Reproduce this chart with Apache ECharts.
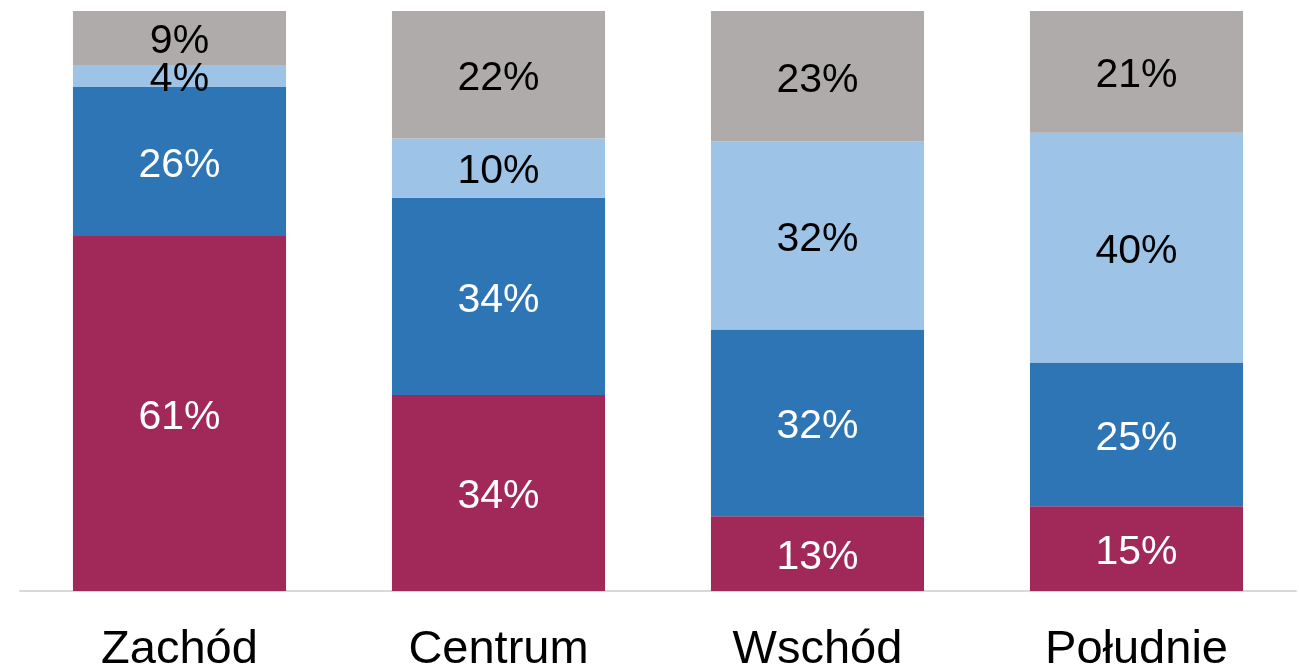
<!DOCTYPE html>
<html>
<head>
<meta charset="utf-8">
<script src="https://cdn.jsdelivr.net/npm/echarts@6/dist/echarts.min.js"></script>
<style>
html,body{margin:0;padding:0;background:#fff;}
#chart{width:1299px;height:667px;}
</style>
</head>
<body>
<div id="chart"></div>
<script>
const categories = ['Zachód', 'Centrum', 'Wschód', 'Południe'];
const seriesRed = [61.2, 33.8, 12.9, 14.6];
const seriesBlue = [25.7, 34, 32.2, 24.8];
const seriesLight = [3.8, 10.2, 32.4, 39.6];
const seriesGrey = [9.3, 22, 22.5, 21];

const colors = ['#A0295A', '#2E75B6', '#9DC3E6', '#AFABAB'];
const labelColors = ['#ffffff', '#ffffff', '#000000', '#000000'];
const allSeries = [seriesRed, seriesBlue, seriesLight, seriesGrey];

const chart = echarts.init(document.getElementById('chart'));
chart.setOption({
  animation: false,
  grid: {left: 20, right: 3, top: 11, bottom: 76, containLabel: false, outerBoundsMode: 'none'},
  xAxis: {
    type: 'category',
    data: categories,
    axisLine: {lineStyle: {color: '#D9D9D9', width: 2}},
    axisTick: {show: false},
    axisLabel: {fontFamily: 'Liberation Sans, Arial, sans-serif', fontSize: 47, color: '#000', margin: 36}
  },
  yAxis: {type: 'value', min: 0, max: 100, show: false, splitLine: {show: false}},
  series: allSeries.map((d, i) => ({
    type: 'bar',
    stack: 'total',
    data: d,
    barCategoryGap: '33.2%',
    itemStyle: {color: colors[i]},
    label: {
      show: true,
      position: 'inside',
      offset: [0, 4],
      formatter: p => Math.round(p.value) + '%',
      fontFamily: 'Liberation Sans, Arial, sans-serif',
      fontSize: 41,
      color: labelColors[i]
    }
  }))
});
</script>
</body>
</html>
